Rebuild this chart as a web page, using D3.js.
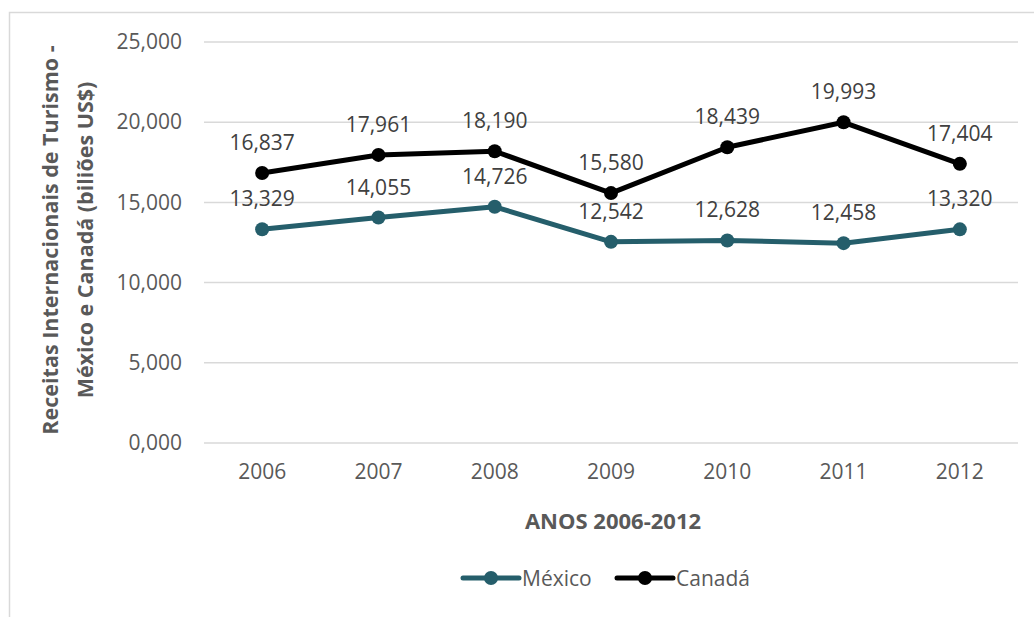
<!DOCTYPE html>
<html><head><meta charset="utf-8">
<script src="https://cdn.jsdelivr.net/npm/d3@7"></script>
<style>body{margin:0;background:#fff;} text{font-family:"Open Sans",sans-serif;}</style>
</head><body>
<svg id="c" width="1034" height="617"></svg>
<script>
const years = ["2006","2007","2008","2009","2010","2011","2012"];
const mexico = [13329,14055,14726,12542,12628,12458,13320];
const canada = [16837,17961,18190,15580,18439,19993,17404];
const yTicks = [0,5000,10000,15000,20000,25000];
const seriesNames = ["México","Canadá"];
const seriesColors = ["#255e6b","#000000"];

const FS = "21px";
const svg = d3.select("#c");
svg.append("rect").attr("x",9.5).attr("y",12.5).attr("width",1100).attr("height",700)
  .attr("fill","none").attr("stroke","#d9d9d9").attr("stroke-width",1.5);

const pLeft=204, pRight=1018, pTop=42, pBottom=443;
const x = d3.scaleBand().domain(years).range([pLeft,pRight]);
const y = d3.scaleLinear().domain([0,25000]).range([pBottom,pTop]);
const fmt = v => Math.floor(v/1000)+","+String(v%1000).padStart(3,"0");

// grid
svg.append("g").selectAll("line").data(yTicks).join("line")
  .attr("x1",pLeft).attr("x2",pRight).attr("y1",d=>y(d)).attr("y2",d=>y(d))
  .attr("stroke","#d9d9d9").attr("stroke-width",1.5);

// y axis labels
const yAxis = d3.axisLeft(y).tickValues(yTicks).tickSize(0).tickPadding(22).tickFormat(fmt);
const gy = svg.append("g").attr("transform",`translate(${pLeft},0)`).call(yAxis);
gy.select(".domain").remove();
gy.selectAll("text").attr("fill","#595959").style("font-size",FS).attr("font-family","Open Sans");

// x axis labels
const xAxis = d3.axisBottom(x).tickSize(0).tickPadding(21);
const gx = svg.append("g").attr("transform",`translate(0,${pBottom})`).call(xAxis);
gx.select(".domain").remove();
gx.selectAll("text").attr("fill","#595959").style("font-size",FS).attr("font-family","Open Sans");

// axis titles
svg.append("text").attr("x",(pLeft+pRight)/2+2).attr("y",529).attr("text-anchor","middle")
  .attr("fill","#595959").style("font-size","22px").style("font-weight","bold").text("ANOS 2006-2012");
const yt = svg.append("text").attr("transform","translate(58,240) rotate(-90)").attr("text-anchor","middle")
  .attr("fill","#595959").style("font-size","21.5px").style("font-weight","bold");
yt.append("tspan").attr("x",0).attr("dy",0).text("Receitas Internacionais de Turismo -");
yt.append("tspan").attr("x",0).attr("dy",35).text("México e Canadá (biliões US$)");

const cx = d => x(d)+x.bandwidth()/2;
const line = d3.line().x((d,i)=>cx(years[i])).y(d=>y(d));
[mexico,canada].forEach((s,k)=>{
  const g = svg.append("g");
  g.append("path").datum(s).attr("d",line).attr("fill","none").attr("stroke",seriesColors[k])
    .attr("stroke-width",5).attr("stroke-linejoin","round");
  g.selectAll("circle").data(s).join("circle").attr("cx",(d,i)=>cx(years[i])).attr("cy",d=>y(d))
    .attr("r",7).attr("fill",seriesColors[k]);
  g.selectAll("text").data(s).join("text").attr("x",(d,i)=>cx(years[i])).attr("y",d=>y(d)-23)
    .attr("text-anchor","middle").attr("fill","#404040").style("font-size",FS).text(fmt);
});

// legend
const lg = [{x:463,tx:522},{x:617,tx:676}];
seriesNames.forEach((n,k)=>{
  const L = lg[k];
  svg.append("line").attr("x1",L.x).attr("x2",L.x+56).attr("y1",578).attr("y2",578)
    .attr("stroke",seriesColors[k]).attr("stroke-width",5).attr("stroke-linecap","round");
  svg.append("circle").attr("cx",L.x+28).attr("cy",578).attr("r",7).attr("fill",seriesColors[k]);
  svg.append("text").attr("x",L.tx).attr("y",586).attr("fill","#595959").style("font-size",FS).text(n);
});
</script>
</body></html>
